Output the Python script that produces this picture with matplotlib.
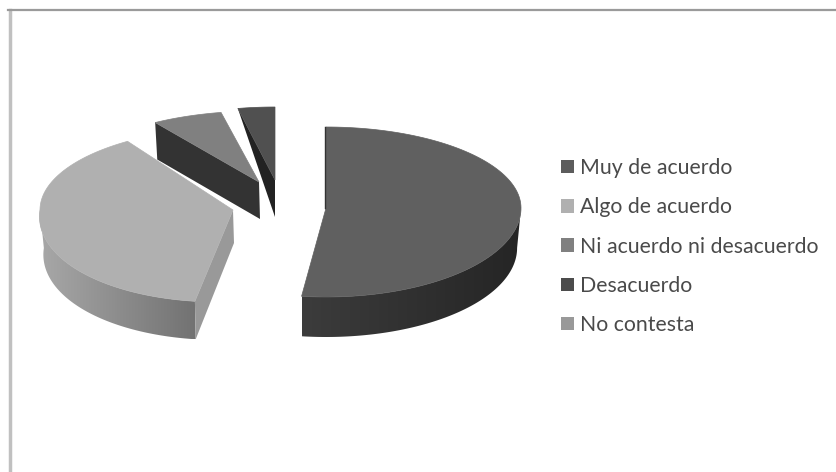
#!/usr/bin/env python3

import numpy as np
import matplotlib
matplotlib.use("Agg")
import matplotlib.pyplot as plt
from matplotlib.colors import LinearSegmentedColormap
from matplotlib.patches import Patch, Polygon

# Chart data
categories = ["Muy de acuerdo", "Algo de acuerdo", "Ni acuerdo ni desacuerdo", "Desacuerdo", "No contesta"]
values = [52.0, 38.8, 6.0, 3.2, 0.0]

# Colors
top_colors = ["#606060", "#b0b0b0", "#808080", "#505050", "#939393"]
legend_colors = ["#5c5c5c", "#b0b0b0", "#808080", "#4c4c4c", "#999999"]
cut_colors = ["#333333", "#999999", "#333333", "#222222", "#777777"]
wall_left = ["#3c3c3c", "#a8a8a8", "#333333", "#222222", "#777777"]
wall_right = ["#252525", "#727272", "#333333", "#222222", "#777777"]

# Exploded slice layout in pixels: center, radii, thickness
center_x = [326, 233, 259, 275, 275]
center_y = [208, 210, 182, 180, 180]
radius_x = [195, 193, 190, 186, 186]
radius_back = [81, 82, 71, 73, 73]
radius_front = [89, 92, 92, 92, 92]
depth = [40, 38, 37, 37, 37]
shear = [0, 14, 0, 0, 0]

BOTTOM_SHRINK = 0.98

fig = plt.figure(figsize=(8.36, 4.72), dpi=100)
ax = fig.add_axes([0, 0, 1, 1])


def top_point(i, deg):
    t = np.radians(deg)
    cos_t = np.cos(t)
    ry = np.where(cos_t > 0, radius_back[i], radius_front[i])
    x = center_x[i] + radius_x[i] * np.sin(t) + shear[i] * np.minimum(0, cos_t)
    y = center_y[i] - ry * cos_t
    return x, y


def bottom_point(i, deg):
    x, y = top_point(i, deg)
    return center_x[i] + (x - center_x[i]) * BOTTOM_SHRINK, y + depth[i]


# Slice angles, clockwise from twelve o'clock
edges = np.concatenate([[0], np.cumsum(values)]) * 360 / np.sum(values)

# Back slices first so the front ones sit on top
for i in [3, 2, 1, 0]:
    a0, a1 = edges[i], edges[i + 1]
    cx, cy = center_x[i], center_y[i]
    arc = np.linspace(a0, a1, 120)

    # Outer wall with a left to right shade, only where the rim faces the viewer
    lo, hi = max(a0, 90), min(a1, 270)
    if hi > lo:
        wall = np.linspace(lo, hi, 120)
        xt, yt = top_point(i, wall)
        xb, yb = bottom_point(i, wall)
        outline = np.column_stack([np.r_[xt, xb[::-1]], np.r_[yt, yb[::-1]]])
        shape = Polygon(outline, closed=True, facecolor="none", edgecolor="none", transform=ax.transData)
        ax.add_patch(shape)
        cmap = LinearSegmentedColormap.from_list("wall", [wall_left[i], wall_right[i]])
        img = ax.imshow(np.linspace(0, 1, 256).reshape(1, -1), cmap=cmap, aspect="auto", interpolation="bilinear",
                        extent=(outline[:, 0].min(), outline[:, 0].max(), outline[:, 1].max(), outline[:, 1].min()))
        img.set_clip_path(shape)

    # Cut faces
    if i == 1:
        x0, y0 = top_point(i, a0)
        xb0, yb0 = bottom_point(i, a0)
        ax.fill([cx, x0, xb0, cx + 1], [cy, y0, yb0, cy + 33], color=cut_colors[i], lw=0)
    if i == 2:
        x0, y0 = top_point(i, a0)
        xb0, yb0 = bottom_point(i, a0)
        ax.fill([cx, x0, xb0, cx + 1], [cy, y0, yb0, cy + depth[i]], color=cut_colors[i], lw=0)
    if i == 3:
        # this one narrows to nothing at the rim
        x1, y1 = top_point(i, a0)
        ax.fill([x1, cx, cx], [y1, cy, cy + depth[i]], color=cut_colors[i], lw=0)

    # Top surface
    ax_x, ax_y = top_point(i, arc)
    ax.fill(np.r_[cx, ax_x], np.r_[cy, ax_y], color=top_colors[i], lw=0.5)

    if i == 0:
        x1, y1 = top_point(i, a0)
        ax.plot([x1 - 1, cx - 1], [y1, cy], color="#333333", lw=1)

# Chart frame
ax.plot([9.5, 9.5], [472, 9.5], color="#c0c0c0", lw=2.5)
ax.plot([8, 836], [10, 10], color="#9a9a9a", lw=1.6)

ax.set_xlim(0, 836)
ax.set_ylim(472, 0)
ax.axis("off")

handles = [Patch(facecolor=c, edgecolor="none") for c in legend_colors]
ax.legend(handles, categories, loc="upper left", bbox_to_anchor=(0.671, 0.665), frameon=False,
          prop={"family": "Lato", "size": 15.3}, labelcolor="#4a4a4a", handlelength=0.6,
          handleheight=0.6, handletextpad=0.31, labelspacing=0.905, borderpad=0, borderaxespad=0)

plt.savefig("out.png", dpi=100)
